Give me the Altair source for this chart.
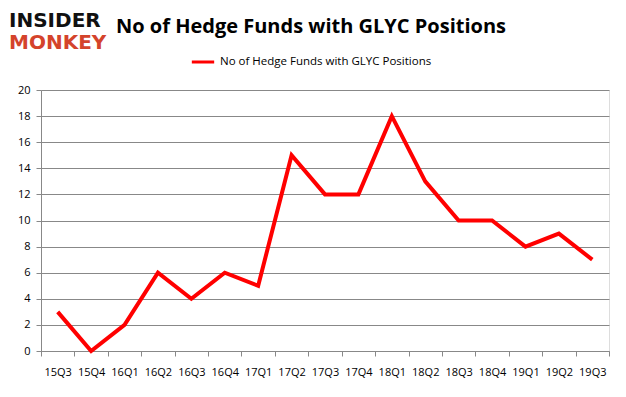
import altair as alt
import pandas as pd

quarters = ["15Q3", "15Q4", "16Q1", "16Q2", "16Q3", "16Q4", "17Q1", "17Q2", "17Q3",
            "17Q4", "18Q1", "18Q2", "18Q3", "18Q4", "19Q1", "19Q2", "19Q3"]
funds = [3, 0, 2, 6, 4, 6, 5, 15, 12, 12, 18, 13, 10, 10, 8, 9, 7]
series_name = "No of Hedge Funds with GLYC Positions"
title_text = "No of Hedge Funds with GLYC Positions"

df = pd.DataFrame({"q": quarters, "v": funds, "s": [series_name] * len(quarters)})

FONT = "Open Sans"
W, H = 568, 261

base = alt.Chart(df)

line = base.mark_line(strokeWidth=4, strokeJoin="miter").encode(
    x=alt.X("q:N", sort=quarters, scale=alt.Scale(type="band", paddingInner=0, paddingOuter=0),
            bandPosition=0.5,
            axis=alt.Axis(title=None, tickBand="extent", labelAngle=0, labelFont=FONT,
                          labelFontSize=11, labelColor="#000", labelPadding=10,
                          domainColor="#888", tickColor="#888", tickSize=5, grid=False)),
    y=alt.Y("v:Q", scale=alt.Scale(domain=[0, 20], nice=False),
            axis=alt.Axis(title=None, values=list(range(0, 21, 2)), labelFont=FONT,
                          labelFontSize=11, labelColor="#000", labelPadding=6,
                          domainColor="#888", tickColor="#888", tickSize=5,
                          gridColor="#888", gridWidth=1)),
    color=alt.Color("s:N", scale=alt.Scale(range=["#ff0000"]),
                    legend=alt.Legend(title=None, orient="none", legendX=149, legendY=-41,
                                      symbolType="stroke", symbolStrokeWidth=3, symbolSize=500,
                                      labelFont=FONT, labelFontSize=11.5, labelColor="#000",
                                      labelLimit=400, direction="horizontal")),
)

title = alt.Chart(pd.DataFrame({"t": [title_text]})).mark_text(
    font=FONT, fontSize=20, fontWeight="bold", align="center", baseline="middle", color="#000"
).encode(text="t:N", x=alt.value(270), y=alt.value(-63))

logo1 = alt.Chart(pd.DataFrame({"t": ["INSIDER"]})).mark_text(
    font="DejaVu Sans", fontSize=20, fontWeight="bold", align="left", baseline="middle",
    color="#111"
).encode(text="t:N", x=alt.value(-32), y=alt.value(-69))

logo2 = alt.Chart(pd.DataFrame({"t": ["MONKEY"]})).mark_text(
    font="DejaVu Sans", fontSize=20, fontWeight="bold", align="left", baseline="middle",
    color="#d4432b"
).encode(text="t:N", x=alt.value(-32), y=alt.value(-47))

chart = alt.layer(line, title, logo1, logo2).properties(
    width=W, height=H,
    autosize=alt.AutoSizeParams(type="none"),
    padding={"left": 33, "top": 82, "right": 9, "bottom": 37},
).configure_view(stroke=None).configure(background="white")

chart.save("out.html", embed_options={"renderer": "svg", "actions": False})
